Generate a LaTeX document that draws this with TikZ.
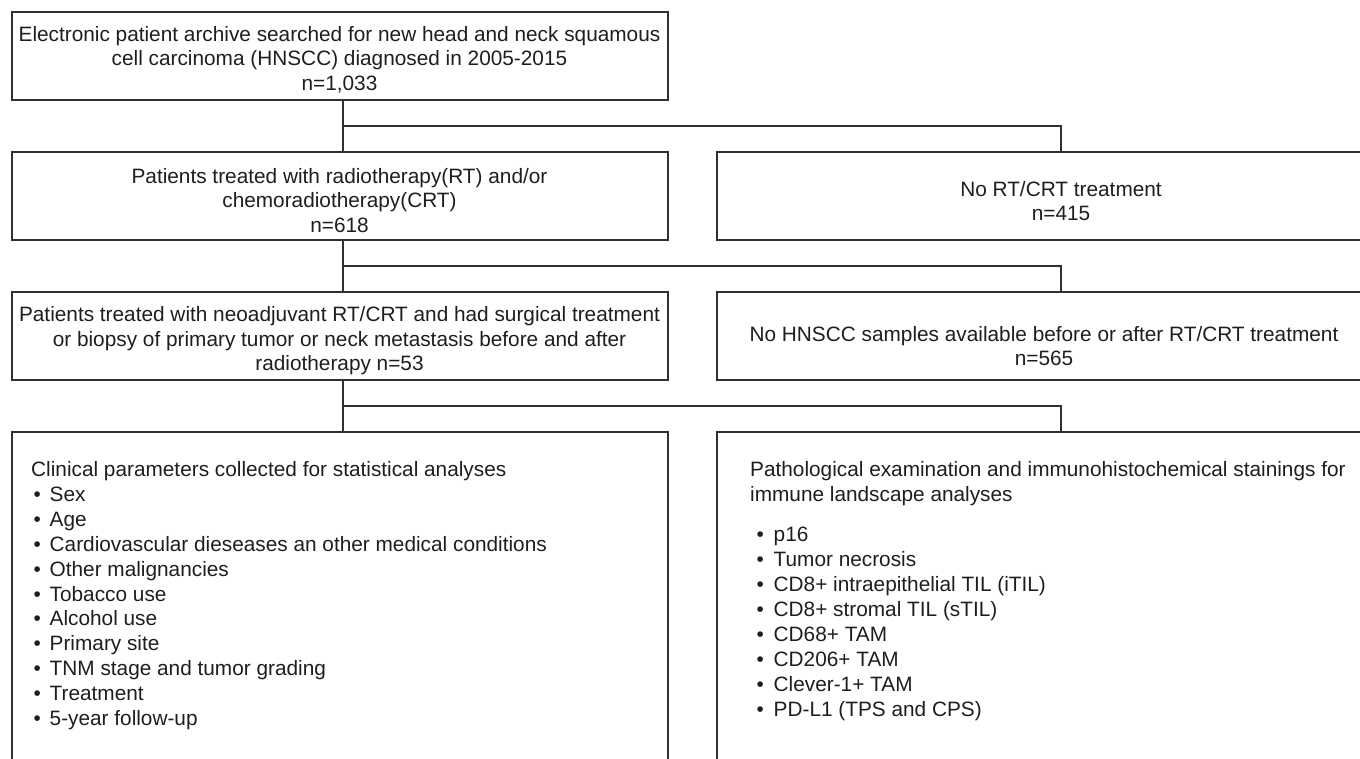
\documentclass[tikz,border=0pt]{standalone}
\usepackage{fontspec}
\setmainfont{Liberation Sans}
\definecolor{ln}{HTML}{303030}
\definecolor{tx}{HTML}{1E1E1E}
\newcommand\fsz{\fontsize{20.8}{24.6}\selectfont}
\begin{document}
\begin{tikzpicture}[x=1pt,y=-1pt,
  box/.style={draw=ln, line width=2.6pt, inner sep=0pt},
  lbox/.style={box, minimum width=656pt},
  rbox/.style={box, minimum width=688pt},
  txt/.style={inner sep=0pt, align=center, text=tx, font=\fsz},
  item/.style={inner sep=0pt, anchor=base west, text=tx, font=\fsz},
  conn/.style={draw=ln, line width=2.6pt}]
\useasboundingbox (0,0) rectangle (1360,759);
\clip (0,0) rectangle (1360,759);
% boxes
\node[lbox, minimum height=88pt] (b1) at (340,56) {};
\node[lbox, minimum height=88pt] (b2) at (340,196) {};
\node[lbox, minimum height=88pt] (b3) at (340,336) {};
\node[rbox, minimum height=88pt] (r1) at (1061,196) {};
\node[rbox, minimum height=88pt] (r2) at (1061,336) {};
\node[lbox, minimum height=400pt] (b4) at (340,632) {};
\node[rbox, minimum height=400pt] (r3) at (1061,632) {};
% texts
\node[txt] (t1) at (339.5,59.5) {Electronic patient archive searched for new head and neck squamous\\cell carcinoma (HNSCC) diagnosed in 2005-2015\\n=1,033};
\node[txt] (t2) at (339.5,200.5) {Patients treated with radiotherapy(RT) and/or\\chemoradiotherapy(CRT)\\n=618};
\node[txt] (t3) at (339.5,340.8) {Patients treated with neoadjuvant RT/CRT and had surgical treatment\\or biopsy of primary tumor or neck metastasis before and after\\radiotherapy n=53};
\node[txt] (tr1) at (1061,201) {No RT/CRT treatment\\n=415};
\node[txt] (tr2) at (1044,346) {No HNSCC samples available before or after RT/CRT treatment\\n=565};
% connectors
\coordinate (k1) at (343,126);
\coordinate (k2) at (343,266);
\coordinate (k3) at (343,406);
\draw[conn] (b1.south -| k1) -- (b2.north -| k1);
\draw[conn] (k1) -| (r1.north);
\draw[conn] (b2.south -| k2) -- (b3.north -| k2);
\draw[conn] (k2) -| (r2.north);
\draw[conn] (b3.south -| k3) -- (b4.north -| k3);
\draw[conn] (k3) -| (r3.north);
% left list
\node[item] (lt) at (31,476.4) {Clinical parameters collected for statistical analyses};
\foreach \t [count=\i] in {{Sex},{Age},{Cardiovascular dieseases an other medical conditions},{Other malignancies},{Tobacco use},{Alcohol use},{Primary site},{TNM stage and tumor grading},{Treatment},{5-year follow-up}}
  \node[item] (li\i) at (33.5,{501.4+24.9*(\i-1)}) {\makebox[16pt][l]{•}\t};
% right list
\node[item] (rt1) at (750,476.4) {Pathological examination and immunohistochemical stainings for};
\node[item] (rt2) at (750,501.4) {immune landscape analyses};
\foreach \t [count=\i] in {{p16},{Tumor necrosis},{CD8+ intraepithelial TIL (iTIL)},{CD8+ stromal TIL (sTIL)},{CD68+ TAM},{CD206+ TAM},{Clever-1+ TAM},{PD-L1 (TPS and CPS)}}
  \node[item] (ri\i) at (756.5,{541.4+25*(\i-1)}) {\makebox[17pt][l]{•}\t};
\end{tikzpicture}
\end{document}
